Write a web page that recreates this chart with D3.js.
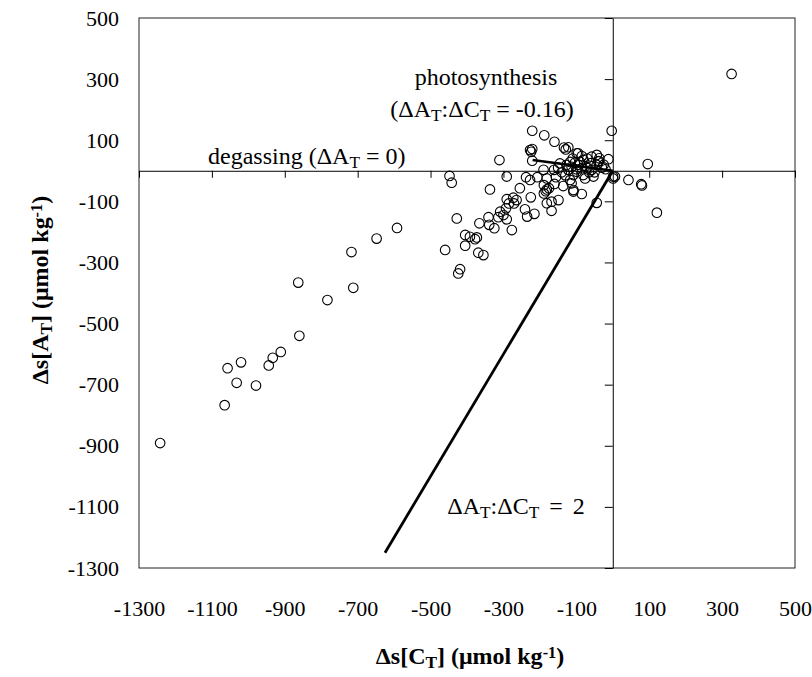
<!DOCTYPE html>
<html>
<head>
<meta charset="utf-8">
<script src="https://cdn.jsdelivr.net/npm/d3@7"></script>
<style>
  body { margin: 0; background: #fff; }
</style>
</head>
<body>
<script>
// salinity-normalised deltas, umol/kg
let dsCT = [
  -1242, -1065, -1032, -1057, -1020, -979, -944, -933, -911, -860, -863, -783, -712, -717, -648, -592,
  -460, -424, -419, -405, -405, -392, -373, -378, -369, -355, -428, -366, -339, -325, -341, -277,
  -309, -300, -314, -291, -293, -285, -291, -273, -264, -271, -337, -448, -442, -291, -311,
  -241, -235, -215, -225, -181, -168, -149, -168, -255, -238, -227, -207, -190, -181, -189, -181,
  -184, -175, -189, -160, -156, -161, -136, -145, -127, -122, -108, -85, -117, -113, -104, -90,
  -85, -99, -108, -81, -76, -117, -58, -44, -53, 1, 6, 43, -44, -113, -108,
  -221, -188, -160, -134, -129, -227, -221, -224, -221, -99, -44, -38, -12, -58, -3, -95, -85,
  -37, -40, -122, 326, 96, 78, 80, 121, 1,
  -70, -65, -75, -95, -100, -60, -30, -25, -20, -50, -140, -130, -150, -80, -70, -110
];
let dsAT = [
  -891, -767, -694, -646, -627, -703, -637, -612, -593, -540, -366, -423, -383, -266, -222, -187,
  -259, -336, -322, -245, -210, -216, -218, -224, -268, -276, -156, -172, -177, -188, -152, -194,
  -134, -145, -152, -159, -123, -107, -93, -88, -96, -107, -61, -17, -39, -19, 35,
  -126, -150, -141, -87, -106, -101, -96, -131, -57, -21, -30, -21, 3, -25, -47, -61,
  -67, -57, -74, -43, -21, 3, -50, 24, 19, 3, -63, -76, -30, 13, 26, 29,
  8, -3, -14, -14, -25, 29, 3, 19, -19, -25, -19, -30, -105, -41, -68,
  131, 116, 95, 76, 70, 68, 71, 62, 33, 57, 52, 32, 38, 46, 131, 57, 48,
  41, 30, 77, 317, 22, -44, -48, -137, -19,
  10, -5, 15, 20, 5, 25, 10, 20, 5, -5, -5, -15, 10, 35, 40, 40
];
let tickVals = [-1300, -1100, -900, -700, -500, -300, -100, 100, 300, 500];

// reference lines: photosynthesis (slope -0.16) and 2:1
let photoLine = [[-220, 35.2], [0, 0]];
let ratio2Line = [[0, 0], [-625, -1250]];

var SERIF = "'Liberation Serif', 'DejaVu Serif', serif";

function drawChart() {
  var w = 812, h = 677;
  var left = 139, right = 795, top = 18, bottom = 568;

  var svg = d3.select("body").append("svg")
    .attr("width", w)
    .attr("height", h);

  var x = d3.scaleLinear().domain([-1300, 500]).range([left, right]);
  var y = d3.scaleLinear().domain([-1300, 500]).range([bottom, top]);

  // frame
  svg.append("rect")
    .attr("x", left).attr("y", top)
    .attr("width", right - left).attr("height", bottom - top)
    .attr("fill", "none").attr("stroke", "#222").attr("stroke-width", 1);

  // axis lines crossing at zero, with ticks
  var xAxis = d3.axisBottom(x).tickValues(tickVals).tickSize(7).tickSizeOuter(0).tickFormat("");
  svg.append("g")
    .attr("transform", "translate(0," + y(0) + ")")
    .call(xAxis);

  var yAxis = d3.axisLeft(y).tickValues(tickVals).tickSize(8).tickSizeOuter(0).tickFormat("");
  svg.append("g")
    .attr("transform", "translate(" + x(0) + ",0)")
    .call(yAxis);

  // tick labels at the frame edges (plain hyphen, no thousands comma)
  var fmt = function(d) { return String(d); };

  var xLab = svg.append("g")
    .attr("transform", "translate(0," + bottom + ")")
    .call(d3.axisBottom(x).tickValues(tickVals).tickSize(0).tickPadding(32).tickFormat(fmt));
  xLab.select(".domain").remove();

  var yLab = svg.append("g")
    .attr("transform", "translate(" + left + ",0)")
    .call(d3.axisLeft(y).tickValues(tickVals).tickSize(0).tickPadding(20).tickFormat(fmt));
  yLab.select(".domain").remove();

  svg.selectAll(".tick text")
    .attr("fill", "#000")
    .style("font-family", SERIF)
    .style("font-size", "22px");

  svg.selectAll(".tick line").attr("stroke", "#000");
  svg.selectAll(".domain").attr("stroke", "#000");

  // lines
  var line = d3.line()
    .x(function(d) { return x(d[0]); })
    .y(function(d) { return y(d[1]); });

  svg.append("path").datum(photoLine)
    .attr("d", line).attr("fill", "none")
    .attr("stroke", "#000").attr("stroke-width", 2.7);
  svg.append("path").datum(ratio2Line)
    .attr("d", line).attr("fill", "none")
    .attr("stroke", "#000").attr("stroke-width", 2.8);

  // points
  var pts = dsCT.map(function(d, i) { return [d, dsAT[i]]; });
  svg.selectAll("circle")
    .data(pts)
    .enter()
    .append("circle")
    .attr("cx", function(d) { return x(d[0]); })
    .attr("cy", function(d) { return y(d[1]); })
    .attr("r", 4.8)
    .attr("fill", "none")
    .attr("stroke", "#000")
    .attr("stroke-width", 1.1);

  // text with sub/superscripts: parts = [[text, "n"|"sub"|"sup"], ...]
  function rich(g, parts, size) {
    g.style("font-family", SERIF);
    parts.forEach(function(p) {
      var t = g.append("tspan").text(p[0]).style("font-family", SERIF);
      if (p[1] == "sub") t.attr("baseline-shift", "-22%").style("font-size", size * 0.72 + "px");
      if (p[1] == "sup") t.attr("baseline-shift", "38%").style("font-size", size * 0.68 + "px");
      if (p[1] == "n") t.style("font-size", size + "px");
    });
  }

  // annotations
  svg.append("text")
    .attr("x", 486).attr("y", 85)
    .attr("text-anchor", "middle")
    .style("font-family", SERIF).style("font-size", "24px")
    .text("photosynthesis");

  var t1 = svg.append("text")
    .attr("x", 482).attr("y", 117)
    .attr("text-anchor", "middle");
  rich(t1, [["(ΔA", "n"], ["T", "sub"], [":ΔC", "n"], ["T", "sub"], [" = -0.16)", "n"]], 24);

  var t2 = svg.append("text")
    .attr("x", 208).attr("y", 164);
  rich(t2, [["degassing (ΔA", "n"], ["T", "sub"], [" = 0)", "n"]], 24);

  var t3 = svg.append("text")
    .attr("x", 516).attr("y", 514)
    .attr("text-anchor", "middle")
    .style("word-spacing", "4px");
  rich(t3, [["ΔA", "n"], ["T", "sub"], [":ΔC", "n"], ["T", "sub"], [" = 2", "n"]], 24);

  // axis titles
  var xt = svg.append("text")
    .attr("x", 470).attr("y", 664)
    .attr("text-anchor", "middle")
    .style("font-weight", "bold");
  rich(xt, [["Δs[C", "n"], ["T", "sub"], ["] (μmol kg", "n"], ["-1", "sup"], [")", "n"]], 24);

  var yt = svg.append("text")
    .attr("transform", "translate(48," + 290 + ") rotate(-90)")
    .attr("text-anchor", "middle")
    .style("font-weight", "bold");
  rich(yt, [["Δs[A", "n"], ["T", "sub"], ["] (μmol kg", "n"], ["-1", "sup"], [")", "n"]], 24);
}

window.onload = function() {
  drawChart();
};
</script>
</body>
</html>
